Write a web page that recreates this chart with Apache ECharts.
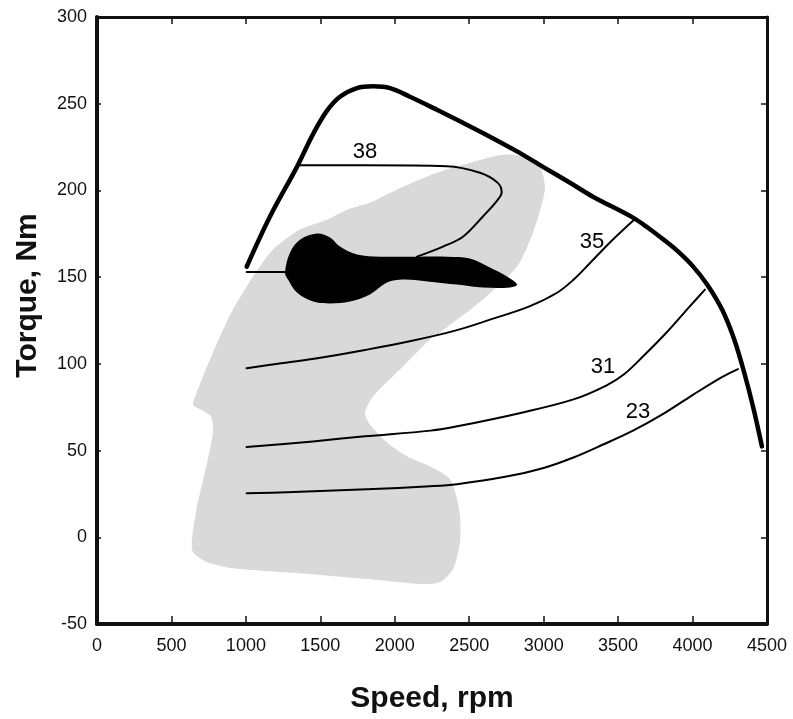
<!DOCTYPE html>
<html>
<head>
<meta charset="utf-8">
<title>Engine map</title>
<script src="https://cdn.jsdelivr.net/npm/echarts@6/dist/echarts.min.js"></script>
<style>
  html, body { margin: 0; padding: 0; background: #fff; }
  #chart { width: 793px; height: 719px; }
</style>
</head>
<body>
<div id="chart"></div>
<script>
// Axis ranges (rpm, Nm)
const speedMin = 0, speedMax = 4500, speedStep = 500;
const torqueMin = -50, torqueMax = 300, torqueStep = 50;

// Full-load (maximum torque) curve
const fullLoad = [
  [1005, 156], [1162, 185], [1343, 213.6], [1451, 232.5], [1545, 246], [1632, 254],
  [1746, 259], [1854, 260], [1968, 259], [2102, 254], [2283, 246.5], [2458, 239],
  [2639, 231], [2821, 222.5], [2995, 213.6], [3177, 204.4], [3331, 196.4], [3600, 184.3],
  [3700, 178.5], [3800, 172], [3900, 165], [4000, 156.5], [4100, 145.5], [4200, 131],
  [4280, 114], [4350, 94], [4410, 74], [4466, 52.4]
];

// Efficiency contours (%)
const contour38 = [
  [1345, 214.5], [1800, 214.5], [2350, 214], [2572, 210.2], [2690, 204.5], [2718, 199],
  [2686, 194], [2592, 185], [2458, 173.3], [2324, 167.6], [2149, 161.8]
];
const contour38Low = [[1005, 153], [1265, 153]];
const contour35 = [
  [1005, 97.5], [1250, 100.5], [1500, 103.5], [1800, 108], [2100, 113], [2400, 119],
  [2640, 125.5], [2900, 133], [3090, 141], [3200, 148.5], [3310, 158], [3445, 170],
  [3600, 182.5]
];
const contour31 = [
  [1005, 52], [1450, 55.3], [1800, 58.2], [2240, 61.5], [2420, 64], [2860, 72],
  [3200, 79.5], [3420, 87.5], [3540, 94], [3670, 104.5], [3830, 118.5],
  [3980, 133], [4083, 142.8]
];
const contour23 = [
  [1005, 25.4], [1276, 26], [1813, 27.7], [2236, 29.4], [2418, 30.6], [2750, 35],
  [3000, 40], [3200, 46], [3400, 53.5], [3600, 61.5], [3800, 71], [4000, 82],
  [4200, 92.5], [4305, 97]
];

// Contour labels: [speed, torque, text]
const contourLabels = [
  [1800, 222.3, '38'], [3324, 170.5, '35'], [3398, 98.5, '31'], [3633, 72, '23']
];

// Operating region of the drive cycle (grey area)
const cycleRegion = [
  [1048, 150.3], [981, 141.1], [913, 131.3], [826, 115.8], [759, 102.5], [712, 92.7],
  [665, 82.4], [645, 76.6], [692, 73.8], [759, 70.3], [779, 65.1], [772, 56.5],
  [725, 37.5], [672, 17.9], [638, -1.1], [645, -8.6], [739, -14.3], [907, -17.8],
  [1363, -20.7], [1813, -24.1], [2189, -27], [2304, -25.8], [2391, -18.4], [2438, -2.8],
  [2438, 12.2], [2418, 22.1], [2371, 33.5], [2236, 40.9], [2082, 46.7], [1948, 54.7],
  [1833, 65.1], [1800, 72], [1854, 81.2], [2015, 95.1], [2236, 114.1], [2304, 118.1],
  [2592, 137.1], [2821, 156.1], [2928, 175.6], [2995, 194.6], [3009, 202.1], [2975, 213.6],
  [2861, 219.4], [2727, 220.6], [2505, 216], [2283, 210.2], [2055, 202.1], [1833, 192.9],
  [1679, 188.9], [1545, 183.1], [1363, 177.4], [1182, 165.9]
];

// Most frequent operating points (black area)
const densePoints = [
  [1263, 152.6], [1296, 164.1], [1363, 171.6], [1478, 175.1], [1565, 172.8], [1632, 167.6],
  [1746, 163], [1901, 161.8], [2122, 161.8], [2351, 161.8], [2505, 160.7], [2639, 155.5],
  [2754, 150.3], [2821, 145.7], [2774, 144], [2592, 144], [2418, 145.7], [2236, 147.4],
  [2055, 148.6], [1948, 146.9], [1833, 140], [1699, 135.9], [1565, 134.8], [1451, 135.9],
  [1343, 141.1], [1283, 148.6]
];

const FONT = '"Liberation Sans", Arial, Helvetica, sans-serif';
const INK = '#111';

function polygonSeries(points, fill, smooth, z) {
  return {
    type: 'custom',
    z: z,
    silent: true,
    data: points,
    renderItem: function (params, api) {
      if (params.dataIndex !== 0) return null;
      const pts = points.map(function (p) { return api.coord(p); });
      return {
        type: 'polygon',
        shape: { points: pts, smooth: smooth },
        style: { fill: fill, stroke: null }
      };
    }
  };
}

function lineSeries(data, width, z) {
  return {
    type: 'line',
    z: z,
    data: data,
    smooth: 0.35,
    showSymbol: false,
    silent: true,
    lineStyle: { color: '#000', width: width, cap: 'round', join: 'round' }
  };
}

const plainNumber = function (v) { return String(v); };

const chart = echarts.init(document.getElementById('chart'), null, { renderer: 'canvas' });

chart.setOption({
  animation: false,
  backgroundColor: '#fff',
  grid: { left: 97, right: 26, top: 17, bottom: 94, containLabel: false },
  xAxis: [
    {
      type: 'value', position: 'bottom',
      min: speedMin, max: speedMax, interval: speedStep,
      name: 'Speed, rpm', nameLocation: 'middle', nameGap: 60,
      nameTextStyle: { fontFamily: FONT, fontWeight: 'bold', fontSize: 30, color: INK },
      axisLine: { show: true, onZero: false, lineStyle: { color: INK, width: 4 } },
      axisTick: { show: true, inside: true, length: 8, lineStyle: { color: INK, width: 1.5 } },
      axisLabel: { fontFamily: FONT, fontSize: 18, color: INK, margin: 13, formatter: plainNumber },
      splitLine: { show: false }
    },
    {
      type: 'value', position: 'top',
      min: speedMin, max: speedMax, interval: speedStep,
      axisLine: { show: true, onZero: false, lineStyle: { color: INK, width: 3 } },
      axisTick: { show: true, inside: true, length: 7, lineStyle: { color: INK, width: 1.5 } },
      axisLabel: { show: false },
      splitLine: { show: false }
    }
  ],
  yAxis: [
    {
      type: 'value', position: 'left',
      min: torqueMin, max: torqueMax, interval: torqueStep,
      name: 'Torque, Nm', nameLocation: 'middle', nameGap: 54,
      nameTextStyle: { fontFamily: FONT, fontWeight: 'bold', fontSize: 30, color: INK, padding: [0, 0, 0, 50] },
      axisLine: { show: true, onZero: false, lineStyle: { color: INK, width: 4 } },
      axisTick: { show: true, inside: true, length: 4, lineStyle: { color: INK, width: 1.5 } },
      axisLabel: { fontFamily: FONT, fontSize: 18, color: INK, margin: 10, formatter: plainNumber },
      splitLine: { show: false }
    },
    {
      type: 'value', position: 'right',
      min: torqueMin, max: torqueMax, interval: torqueStep,
      axisLine: { show: true, onZero: false, lineStyle: { color: INK, width: 3 } },
      axisTick: { show: true, inside: true, length: 6, lineStyle: { color: INK, width: 1.5 } },
      axisLabel: { show: false },
      splitLine: { show: false }
    }
  ],
  series: [
    polygonSeries(cycleRegion, '#d9d9d9', 0.25, 1),
    polygonSeries(densePoints, '#000', 0.35, 3),
    lineSeries(contour35, 2, 4),
    lineSeries(contour31, 2, 4),
    lineSeries(contour23, 2, 4),
    lineSeries(contour38, 2, 4),
    lineSeries(contour38Low, 2, 4),
    lineSeries(fullLoad, 4.5, 5),
    {
      // contour value labels
      type: 'custom',
      z: 6,
      silent: true,
      data: contourLabels,
      renderItem: function (params, api) {
        const pos = api.coord([api.value(0), api.value(1)]);
        return {
          type: 'text',
          x: pos[0],
          y: pos[1],
          style: {
            text: contourLabels[params.dataIndex][2],
            fill: '#000',
            font: '22px ' + FONT,
            align: 'center',
            verticalAlign: 'middle'
          }
        };
      }
    }
  ]
});
</script>
</body>
</html>
